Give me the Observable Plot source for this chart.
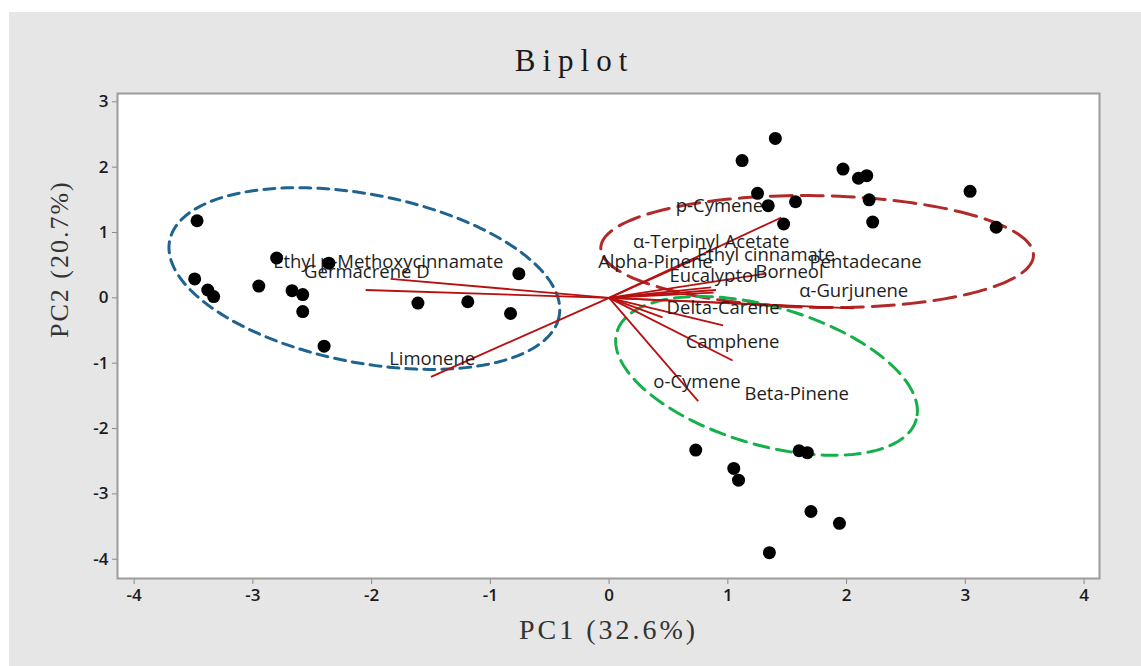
<!DOCTYPE html>
<html><head><meta charset="utf-8">
<script src="https://cdn.jsdelivr.net/npm/d3@7"></script>
<script src="https://cdn.jsdelivr.net/npm/@observablehq/plot@0.6"></script>
<style>
html,body{margin:0;padding:0;background:#fff;width:1141px;height:666px;overflow:hidden;}
#bg{position:absolute;left:9px;top:12px;width:1132px;height:654px;background:#e6e6e6;}
#chart{position:absolute;left:0;top:0;}
</style></head><body>
<div id="bg"></div><div id="chart"></div>
<script>
// Sample scores
const pc1 = [-3.47,-3.49,-3.38,-3.33,-2.95,-2.80,-2.67,-2.58,-2.58,-2.36,-2.40,-1.61,-1.19,-0.83,-0.76,
             1.40,1.12,1.25,1.34,1.57,1.47,1.97,2.10,2.17,2.19,2.22,3.04,3.26,
             0.73,1.05,1.09,1.60,1.67,1.70,1.94,1.35];
const pc2 = [1.18,0.29,0.12,0.02,0.18,0.61,0.11,0.05,-0.21,0.53,-0.74,-0.08,-0.06,-0.24,0.37,
             2.44,2.10,1.60,1.41,1.47,1.13,1.97,1.83,1.87,1.50,1.16,1.63,1.08,
             -2.33,-2.61,-2.79,-2.34,-2.37,-3.27,-3.45,-3.90];

// Variable loadings (vector tips)
const variables = ["Ethyl p-Methoxycinnamate","Germacrene D","Limonene","p-Cymene","α-Terpinyl Acetate",
  "Ethyl cinnamate","Alpha-Pinene","Eucalyptol","Borneol","Pentadecane","α-Gurjunene",
  "Delta-Carene","Camphene","o-Cymene","Beta-Pinene"];
const loadPC1 = [-1.84,-2.05,-1.50,1.45,0.75,1.32,0.86,0.88,0.90,1.46,2.06,0.96,1.04,0.75,0.45];
const loadPC2 = [0.29,0.12,-1.21,1.23,0.61,0.37,0.16,0.08,0.12,-0.12,-0.16,-0.42,-0.96,-1.58,-0.30];
// Label anchor positions
const labelPC1 = [-1.86,-2.04,-1.49,0.93,0.86,1.32,0.39,0.88,1.52,2.16,2.06,0.96,1.04,0.74,1.58];
const labelPC2 = [0.55,0.40,-0.93,1.41,0.86,0.65,0.54,0.34,0.40,0.54,0.10,-0.16,-0.67,-1.29,-1.47];

// Group ellipses: center, first and second semi-axis vectors (data units)
const groups = ["left","upper","lower"];
const ellCX = [-2.061, 1.752, 1.326];
const ellCY = [0.295, 0.708, -1.195];
const ellUX = [1.640, 1.822, 1.260];
const ellUY = [-0.579, -0.053, -0.672];
const ellVX = [-0.1355, 0.0, -0.1638];
const ellVY = [-1.264, -0.856, -1.0126];

const xTicks = [-4,-3,-2,-1,0,1,2,3,4];
const yTicks = [-4,-3,-2,-1,0,1,2,3];

const points = pc1.map((x,i)=>({x, y: pc2[i]}));
const loadings = variables.map((name,i)=>({name, x: loadPC1[i], y: loadPC2[i]}));
const labels = variables.map((name,i)=>({name, x: labelPC1[i], y: labelPC2[i]}));
const ellipse = k => d3.range(0, 361, 2).map(deg => {
  const t = deg*Math.PI/180;
  return {x: ellCX[k] + ellUX[k]*Math.cos(t) + ellVX[k]*Math.sin(t),
          y: ellCY[k] + ellUY[k]*Math.cos(t) + ellVY[k]*Math.sin(t)};
});

const ellStyle = [
  {stroke:"#1f6491", dash:"11,7"},
  {stroke:"#b02a2a", dash:"22,9"},
  {stroke:"#14b04a", dash:"15,8"}
];

const plot = Plot.plot({
  width:1141, height:666,
  marginLeft:117, marginRight:42, marginTop:93, marginBottom:88,
  style:{background:"transparent", fontFamily:"'Open Sans', sans-serif", overflow:"visible"},
  x:{domain:[-4.14,4.13], label:null},
  y:{domain:[-4.295,3.127], label:null},
  marks:[
    Plot.frame({fill:"white"}),
    ...groups.map((g,k)=>Plot.line(ellipse(k), {x:"x", y:"y", stroke:ellStyle[k].stroke, strokeWidth:3, strokeDasharray:ellStyle[k].dash, curve:"linear"})),
    Plot.link(loadings, {x1:()=>0, y1:()=>0, x2:"x", y2:"y", stroke:"#b80f0f", strokeWidth:1.8}),
    Plot.text(labels, {x:"x", y:"y", text:"name", fontSize:18.5, fill:"#1e1e1e", fontFamily:"'Open Sans', sans-serif"}),
    Plot.dot(points, {x:"x", y:"y", r:6.5, fill:"black", stroke:"none"}),
    Plot.axisX({ticks:xTicks, tickFormat:d=>String(d), tickSize:6, tickPadding:4, stroke:"#8a8a8a", fill:"#1a1a1a", fontSize:17, fontWeight:600, label:null}),
    Plot.axisY({ticks:yTicks, tickFormat:d=>String(d), tickSize:5, tickPadding:4, stroke:"#8a8a8a", fill:"#1a1a1a", fontSize:17, fontWeight:600, label:null}),
    Plot.frame({stroke:"#9c9c9c", strokeWidth:2}),
    Plot.text(["Biplot"], {frameAnchor:"top", dx:-34, dy:-45, fontSize:31, fill:"#1a1a1a", fontFamily:"'Liberation Serif', serif"}),
    Plot.text(["PC1 (32.6%)"], {frameAnchor:"bottom", dx:0, dy:60, fontSize:28, fill:"#333", fontFamily:"'Liberation Serif', serif"}),
    Plot.text(["PC2 (20.7%)"], {frameAnchor:"left", dx:-58, dy:2, rotate:-90, fontSize:26, fill:"#333", fontFamily:"'Liberation Serif', serif"})
  ]
});
document.getElementById("chart").appendChild(plot);
d3.select(plot).selectAll("text").each(function(){
  const t = this.textContent;
  if (t === "Biplot") d3.select(this).style("letter-spacing","7px");
  if (t === "PC1 (32.6%)") d3.select(this).style("letter-spacing","3px");
  if (t === "PC2 (20.7%)") d3.select(this).style("letter-spacing","2px");
});
</script>
</body></html>
